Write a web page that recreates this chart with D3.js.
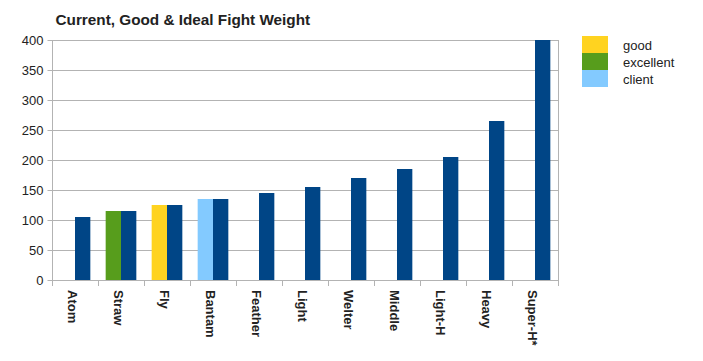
<!DOCTYPE html>
<html><head><meta charset="utf-8">
<script src="https://cdn.jsdelivr.net/npm/d3@7"></script>
<style>body{margin:0;background:#fff}svg{display:block}text{font-family:"Liberation Sans",Arial,sans-serif}</style>
</head><body><svg id="c" width="703" height="361"></svg>
<script>
const categories = ["Atom","Straw","Fly","Bantam","Feather","Light","Welter","Middle","Light-H","Heavy","Super-H*"];
const goalValues = [null,115,125,135,null,null,null,null,null,null,null];
const goalKinds = [null,"excellent","good","client",null,null,null,null,null,null,null];
const currentValues = [105,115,125,135,145,155,170,185,205,265,400];
const legendItems = ["good","excellent","client"];
const legendColors = {good:"#ffd320", excellent:"#579d1c", client:"#83caff"};
const yTicks = [0,50,100,150,200,250,300,350,400];
const title = "Current, Good & Ideal Fight Weight";

const svg = d3.select("#c");
const m = {l:52, r:558, t:40, b:280};
const x = d3.scaleBand().domain(categories).range([m.l, m.r]).paddingInner(0).paddingOuter(0);
const y = d3.scaleLinear().domain([0,400]).range([m.b, m.t]);
const inner = d3.scaleBand().domain(["goal","current"]).range([0, x.bandwidth()]).paddingInner(0).paddingOuter(0.5);

svg.append("text").attr("x",55.5).attr("y",24.5).attr("font-size",15.3).attr("font-weight","bold").attr("fill","#222").text(title);

// grid
svg.append("g").selectAll("line").data(yTicks.filter(d=>d>0)).join("line")
  .attr("x1",m.l).attr("x2",m.r).attr("y1",d=>Math.round(y(d))+0.5).attr("y2",d=>Math.round(y(d))+0.5)
  .attr("stroke","#b3b3b3");
svg.append("line").attr("x1",m.r+0.5).attr("x2",m.r+0.5).attr("y1",m.t).attr("y2",m.b+6).attr("stroke","#b3b3b3");

// bars
const g = svg.append("g");
g.selectAll("rect.goal").data(categories.map((c,i)=>({c,v:goalValues[i],k:goalKinds[i]})).filter(d=>d.v!=null)).join("rect")
  .attr("x",d=>x(d.c)+inner("goal")).attr("width",inner.bandwidth())
  .attr("y",d=>y(d.v)).attr("height",d=>y(0)-y(d.v)).attr("fill",d=>legendColors[d.k]);
g.selectAll("rect.cur").data(categories.map((c,i)=>({c,v:currentValues[i]}))).join("rect")
  .attr("x",d=>x(d.c)+inner("current")).attr("width",inner.bandwidth())
  .attr("y",d=>y(d.v)).attr("height",d=>y(0)-y(d.v)).attr("fill","#004586");

// y axis
const ya = svg.append("g").attr("transform",`translate(${m.l+0.5},0)`)
  .call(d3.axisLeft(y).tickValues(yTicks).tickSize(5).tickPadding(4));
ya.select(".domain").attr("stroke","#b3b3b3").attr("d",`M0,${m.t}V${m.b}`);
ya.selectAll(".tick line").attr("stroke","#b3b3b3");
ya.selectAll(".tick text").attr("font-size",13).attr("fill","#222").attr("font-family","Liberation Sans, Arial, sans-serif");

// x axis
const xa = svg.append("g").attr("transform",`translate(0,${m.b+0.5})`)
  .call(d3.axisBottom(x).tickSize(0).tickFormat(""));
xa.select(".domain").attr("stroke","#b3b3b3").attr("d",`M${m.l},0H${m.r}`);
svg.append("g").selectAll("line").data(categories.concat(["_end"])).join("line")
  .attr("x1",(d,i)=>Math.round(m.l + i*x.bandwidth())+0.5).attr("x2",(d,i)=>Math.round(m.l + i*x.bandwidth())+0.5)
  .attr("y1",m.b).attr("y2",m.b+6).attr("stroke","#b3b3b3");
svg.append("g").selectAll("text").data(categories).join("text")
  .attr("transform",d=>`translate(${x(d)+x.bandwidth()/2-7},290) rotate(90)`)
  .attr("font-size",13).attr("font-weight","bold").attr("fill","#222").text(d=>d);

// legend
const lg = svg.append("g");
legendItems.forEach((k,i)=>{
  lg.append("rect").attr("x",582).attr("y",36+i*17).attr("width",26).attr("height",17).attr("fill",legendColors[k]);
  lg.append("text").attr("x",623).attr("y",50+i*17).attr("font-size",13).attr("fill","#222").text(k);
});
</script></body></html>
